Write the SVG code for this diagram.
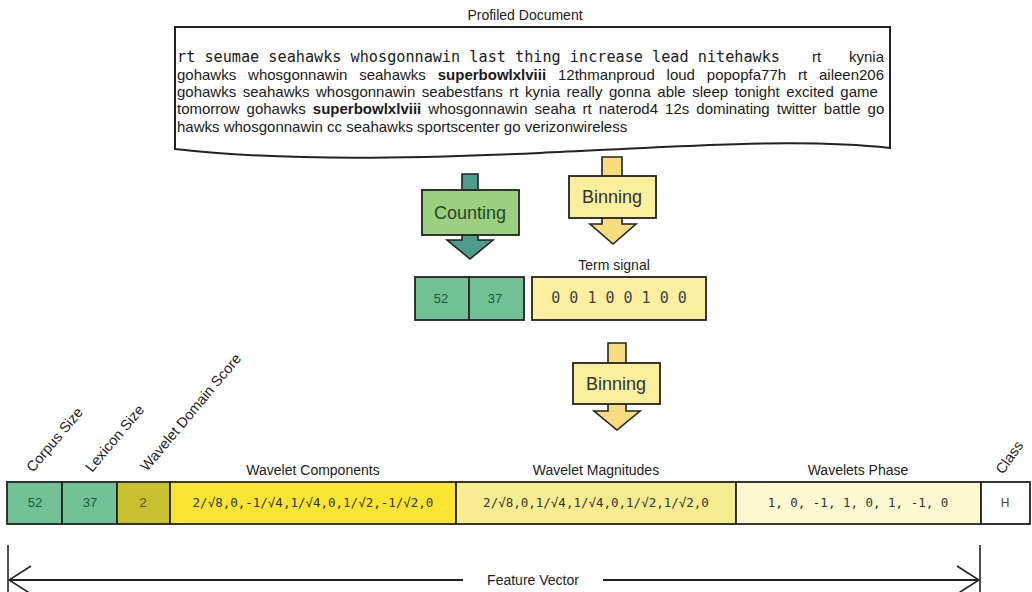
<svg xmlns="http://www.w3.org/2000/svg" width="1032" height="592" viewBox="0 0 1032 592">
<defs>
<style>
.sans{font-family:"Liberation Sans",Arial,sans-serif;}
.mono{font-family:"DejaVu Sans Mono","Liberation Mono",monospace;}
.lbl{font-family:"Liberation Sans",Arial,sans-serif;font-size:14px;fill:#222;}
.rot{font-family:"Liberation Sans",Arial,sans-serif;font-size:14.5px;fill:#222;}
.doc{font-family:"Liberation Sans",Arial,sans-serif;font-size:15px;fill:#1a1a1a;}
.box{stroke:#222;stroke-width:1.8;}
.arrow{stroke:#222;stroke-width:1.6;stroke-linejoin:miter;}
.teal{fill:#4f9b8c;}
.ylw{fill:#f8dc80;}
.cnt{fill:#9ccf80;}
.bin{fill:#fbee9d;}
.mint{fill:#72c196;}
.op{font-size:18px;text-anchor:middle;}
.cell{stroke:#222;stroke-width:1.8;}
.c{text-anchor:middle;}
</style>
<marker id="chev" viewBox="0 0 24 30" refX="23" refY="15" markerWidth="24" markerHeight="30" markerUnits="userSpaceOnUse" orient="auto-start-reverse">
<path d="M1,1 L23,15 L1,29" fill="none" stroke="#222" stroke-width="1.6"/>
</marker>
</defs>
<rect width="1032" height="592" fill="#ffffff"/>

<g id="document">
<text class="lbl c" x="525" y="20">Profiled Document</text>
<path d="M175,27 H890 V148 C800,138 690,146 540,153 C420,158 290,162 175,149 Z" fill="#ffffff" stroke="#222" stroke-width="2"/>
<text class="mono" x="177" y="62" font-size="15" fill="#1a1a1a" textLength="603" lengthAdjust="spacingAndGlyphs">rt seumae seahawks whosgonnawin last thing increase lead nitehawks</text>
<text class="doc" x="812" y="62">rt</text>
<text class="doc" x="884" y="62" text-anchor="end">kynia</text>
<text class="doc" x="177" y="80" word-spacing="7.7">gohawks whosgonnawin seahawks <tspan font-weight="bold">superbowlxlviii</tspan> 12thmanproud loud popopfa77h rt aileen206</text>
<text class="doc" x="177" y="97" word-spacing="2.4">gohawks seahawks whosgonnawin seabestfans rt kynia really gonna able sleep tonight excited game</text>
<text class="doc" x="177" y="114" word-spacing="2.9">tomorrow gohawks <tspan font-weight="bold">superbowlxlviii</tspan> whosgonnawin seaha rt naterod4 12s dominating twitter battle go</text>
<text class="doc" x="177" y="132">hawks whosgonnawin cc seahawks sportscenter go verizonwireless</text>
</g>

<g id="connectors">
<polygon class="arrow teal" points="462,174 478,174 478,240 493,240 470,259 447,240 462,240"/>
<polygon class="arrow ylw" points="602,157 622,157 622,224 636,224 613,244 590,224 602,224"/>
<polygon class="arrow ylw" points="608,343 626,343 626,411 640,411 617,430 594,411 608,411"/>
<g id="feature-vector">
<line x1="8" y1="545" x2="8" y2="592" stroke="#222" stroke-width="1.6"/>
<line x1="980" y1="545" x2="980" y2="592" stroke="#222" stroke-width="1.6"/>
<line x1="9" y1="580" x2="463" y2="580" stroke="#222" stroke-width="2" marker-start="url(#chev)"/>
<line x1="603" y1="580" x2="979" y2="580" stroke="#222" stroke-width="2" marker-end="url(#chev)"/>
<text class="lbl c" x="533" y="585">Feature Vector</text>
</g>
</g>

<g id="counting">
<rect class="box cnt" x="422" y="190" width="97" height="45"/>
<text class="sans op" x="470" y="219" fill="#1f4a22">Counting</text>
</g>

<g id="binning1">
<rect class="box bin" x="569" y="176" width="87" height="42"/>
<text class="sans op" x="612" y="203" fill="#333">Binning</text>
</g>

<g id="counts">
<rect class="box mint" x="415" y="277" width="109" height="43"/>
<line x1="469" y1="277" x2="469" y2="320" stroke="#222" stroke-width="1.8"/>
<text class="sans c" x="441" y="303" font-size="13" fill="#1d5b38">52</text>
<text class="sans c" x="495" y="303" font-size="13" fill="#1d5b38">37</text>
</g>

<g id="term-signal">
<text class="lbl c" x="614" y="270">Term signal</text>
<rect class="box" x="532" y="277" width="174" height="43" fill="#fcf0a0"/>
<text class="mono c" x="619" y="303" font-size="15" fill="#444">0 0 1 0 0 1 0 0</text>
</g>

<g id="binning2">
<rect class="box bin" x="573" y="363" width="87" height="41"/>
<text class="sans op" x="616" y="390" fill="#333">Binning</text>
</g>

<g id="feature-row">
<rect class="cell" x="7" y="482" width="55" height="42" fill="#72c196"/>
<rect class="cell" x="62" y="482" width="55" height="42" fill="#72c196"/>
<rect class="cell" x="117" y="482" width="53" height="42" fill="#c8c230"/>
<rect class="cell" x="170" y="482" width="286" height="42" fill="#fae632"/>
<rect class="cell" x="456" y="482" width="280" height="42" fill="#f8ec90"/>
<rect class="cell" x="736" y="482" width="245" height="42" fill="#fcf8d0"/>
<rect class="cell" x="981" y="482" width="49" height="42" fill="#ffffff"/>

<text class="sans c" x="35" y="507" font-size="13" fill="#1d5b38">52</text>
<text class="sans c" x="90" y="507" font-size="13" fill="#1d5b38">37</text>
<text class="sans c" x="143" y="507" font-size="13" fill="#5a5200">2</text>
<text class="mono c" x="313" y="507" font-size="12.5" fill="#333">2/√8,0,-1/√4,1/√4,0,1/√2,-1/√2,0</text>
<text class="mono c" x="596" y="507" font-size="12.5" fill="#333">2/√8,0,1/√4,1/√4,0,1/√2,1/√2,0</text>
<text class="mono c" x="858" y="507" font-size="12.5" fill="#333">1, 0, -1, 1, 0, 1, -1, 0</text>
<text class="sans c" x="1005" y="507" font-size="12" fill="#444">H</text>

<text class="lbl c" x="313" y="475">Wavelet Components</text>
<text class="lbl c" x="596" y="475">Wavelet Magnitudes</text>
<text class="lbl c" x="858" y="475">Wavelets Phase</text>

<text class="rot" x="33" y="473" transform="rotate(-50 33 473)">Corpus Size</text>
<text class="rot" x="92" y="473" transform="rotate(-50 92 473)">Lexicon Size</text>
<text class="rot" x="147" y="472" transform="rotate(-50 147 472)">Wavelet Domain Score</text>
<text class="rot" x="1003" y="475" transform="rotate(-55 1003 475)">Class</text>
</g>
</svg>
